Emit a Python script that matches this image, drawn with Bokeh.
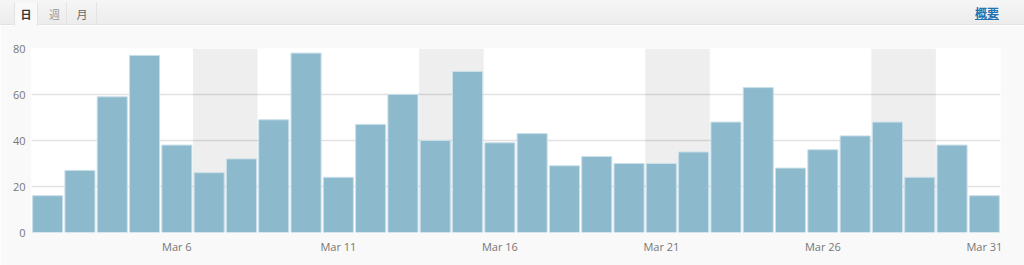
from bokeh.plotting import figure
from bokeh.models import Range1d, FixedTicker, Div
from bokeh.layouts import column
from bokeh.embed import file_html
from bokeh.resources import INLINE

# ---- data ----
days = [2, 3, 4, 5, 6, 7, 8, 9, 10, 11, 12, 13, 14, 15, 16,
        17, 18, 19, 20, 21, 22, 23, 24, 25, 26, 27, 28, 29, 30, 31]
views = [16, 27, 59, 77, 38, 26, 32, 49, 78, 24, 47, 60, 40, 70, 39,
         43, 29, 33, 30, 30, 35, 48, 63, 28, 36, 42, 48, 24, 38, 16]
weekend_days = [7, 8, 14, 15, 21, 22, 28, 29]
tick_days = [6, 11, 16, 21, 26, 31]
tick_labels = ["Mar 6", "Mar 11", "Mar 16", "Mar 21", "Mar 26", "Mar 31"]
y_ticks = [0, 20, 40, 60, 80]
tabs = ["日", "週", "月"]
summary_link = "概要"

# ---- header (tab bar) ----
tab_html = (
    '<div style="position:relative;width:1024px;height:25px;'
    'background:linear-gradient(#f6f6f6,#ececec);border-bottom:1px solid #e2e2e2;'
    'box-sizing:border-box;font-family:\'Noto Sans CJK JP\',sans-serif;font-size:11px;">'
    '<div style="position:absolute;left:14px;top:2px;width:24px;height:24px;'
    'background:#f9f9f9;border-left:1px solid #e4e4e4;border-right:1px solid #e4e4e4;'
    'box-sizing:border-box;text-align:center;line-height:24px;color:#333;font-weight:bold;">'
    + tabs[0] + '</div>'
    '<div style="position:absolute;left:43px;top:2px;width:24px;height:22px;'
    'border-right:1px solid #e4e4e4;box-sizing:border-box;text-align:center;'
    'line-height:24px;color:#999;">' + tabs[1] + '</div>'
    '<div style="position:absolute;left:68px;top:2px;width:29px;height:22px;'
    'border-right:1px solid #e4e4e4;box-sizing:border-box;text-align:center;'
    'line-height:24px;color:#666;">' + tabs[2] + '</div>'
    '<div style="position:absolute;left:975px;top:5px;color:#2271b1;font-weight:bold;'
    'font-size:12px;text-decoration:underline;line-height:16px;">'
    + summary_link + '</div>'
    '</div>'
)
header = Div(text=tab_html, width=1024, height=25,
             styles={"margin": "0", "padding": "0"})

# ---- chart ----
p = figure(width=1024, height=240, output_backend="svg", toolbar_location=None,
           x_range=Range1d(min(days) - 0.5, max(days) + 0.5),
           y_range=Range1d(0, 80),
           min_border_top=23, min_border_bottom=33,
           min_border_left=31, min_border_right=24)
p.background_fill_color = "#ffffff"
p.border_fill_color = "#f9f9f9"
p.outline_line_color = None

# weekend shading
p.vbar(x=weekend_days, width=1.0, bottom=0, top=80,
       fill_color="#000000", fill_alpha=0.065, line_color=None)

# bars
p.vbar(x=days, width=0.93, bottom=0, top=views,
       fill_color="#8db9cc", line_color="#c9dfe9", line_width=1)

# axes
p.xaxis.ticker = FixedTicker(ticks=tick_days)
p.xaxis.major_label_overrides = {d: l for d, l in zip(tick_days, tick_labels)}
p.yaxis.ticker = FixedTicker(ticks=y_ticks)
for ax in (p.xaxis, p.yaxis):
    ax.axis_line_color = None
    ax.major_tick_line_color = None
    ax.minor_tick_line_color = None
    ax.major_label_text_color = "#777777"
    ax.major_label_text_font = "Open Sans"
    ax.major_label_text_font_size = "11px"
p.xaxis.major_label_standoff = 0
p.yaxis.major_label_standoff = 0

p.xgrid.grid_line_color = None
p.ygrid.grid_line_color = "#e2e2e2"
p.ygrid.grid_line_width = 1.5

layout = column(header, p, spacing=0)
open("out.html", "w").write(file_html(layout, INLINE))
